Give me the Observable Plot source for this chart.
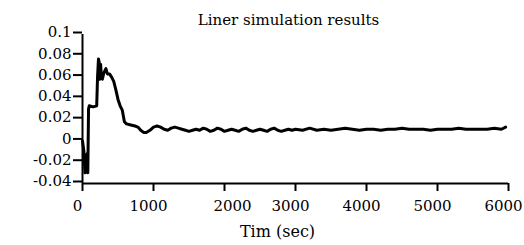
<!DOCTYPE html>
<html>
<head>
<meta charset="utf-8">
<script src="https://cdn.jsdelivr.net/npm/d3@7"></script>
<script src="https://cdn.jsdelivr.net/npm/@observablehq/plot@0.6"></script>
<style>
  html, body { margin: 0; padding: 0; background: #fff; }
  svg { display: block; }
</style>
</head>
<body>
<div id="chart"></div>
<script>
const title = "Liner simulation results";
const xLabel = "Tim (sec)";
const xTicks = [0, 1000, 2000, 3000, 4000, 5000, 6000];
const yTicks = [-0.04, -0.02, 0, 0.02, 0.04, 0.06, 0.08, 0.1];

const timeSec = [
  0, 20, 35, 45, 55, 65, 75, 85, 95, 150, 200, 212, 225, 235, 245, 255, 265, 280, 300, 330,
  350, 380, 410, 440, 470, 500, 530, 560, 590, 620, 680, 740, 780, 820, 860, 900, 950, 1000,
  1050, 1100, 1150, 1200, 1250, 1300, 1350, 1400, 1450, 1500, 1550, 1600, 1650, 1700, 1750,
  1800, 1850, 1900, 1950, 2000, 2050, 2100, 2150, 2200, 2250, 2300, 2350, 2400, 2450, 2500,
  2550, 2600, 2650, 2700, 2750, 2800, 2850, 2900, 2950, 3000, 3100, 3200, 3300, 3400, 3500,
  3600, 3700, 3800, 3900, 4000, 4100, 4200, 4300, 4400, 4500, 4600, 4700, 4800, 4900, 5000,
  5100, 5200, 5300, 5400, 5500, 5600, 5700, 5800, 5900, 5960
];
const response = [
  0.000, -0.010, -0.030, -0.015, -0.029, -0.012, -0.030, 0.030, 0.033, 0.032, 0.033, 0.060, 0.077, 0.074, 0.058, 0.072, 0.062, 0.058, 0.064, 0.068,
  0.063, 0.063, 0.060, 0.056, 0.048, 0.039, 0.033, 0.029, 0.018, 0.016, 0.015, 0.014, 0.013, 0.010, 0.008, 0.008, 0.010, 0.013,
  0.014, 0.013, 0.011, 0.010, 0.012, 0.013, 0.012, 0.011, 0.010, 0.009, 0.010, 0.011, 0.010, 0.012, 0.011,
  0.009, 0.010, 0.012, 0.011, 0.009, 0.010, 0.011, 0.010, 0.009, 0.011, 0.012, 0.010, 0.009, 0.010, 0.011,
  0.010, 0.009, 0.011, 0.012, 0.010, 0.009, 0.010, 0.011, 0.010, 0.011, 0.010, 0.012, 0.010, 0.011, 0.010,
  0.011, 0.012, 0.011, 0.010, 0.011, 0.011, 0.010, 0.011, 0.011, 0.012, 0.011, 0.011, 0.011, 0.010, 0.011,
  0.011, 0.011, 0.012, 0.011, 0.011, 0.011, 0.011, 0.012, 0.011, 0.013
];

const data = timeSec.map((t, i) => ({t, v: response[i]}));
const font = "'DejaVu Serif', serif";
const fmtX = d => String(d);

const plot = Plot.plot({
  width: 524,
  height: 245,
  marginTop: 34,
  marginBottom: 62,
  marginLeft: 82,
  marginRight: 16,
  style: {fontFamily: font, fontSize: "15px", color: "#000", background: "#fff"},
  x: {domain: [0, 6000], ticks: xTicks, label: null},
  y: {domain: [-0.04, 0.1], ticks: yTicks, label: null},
  marks: [
    Plot.axisX({ticks: xTicks, tickSize: 8, strokeWidth: 2, tickFormat: () => ""}),
    Plot.axisX({ticks: xTicks.filter(d => d !== 2000), tickSize: 0, tickPadding: 17, dx: -5, tickFormat: fmtX, fontSize: 15}),
    Plot.axisX({ticks: xTicks.filter(d => d === 2000), tickSize: 0, tickPadding: 17, dx: 8, tickFormat: fmtX, fontSize: 15}),
    Plot.axisY({ticks: yTicks, tickSize: 9, tickPadding: 2, strokeWidth: 2, dy: -2, tickFormat: d => d === 0 ? "0" : String(+d.toFixed(2)), fontSize: 15}),
    Plot.ruleY([-0.04], {strokeWidth: 2}),
    Plot.ruleX([0], {strokeWidth: 2}),
    Plot.line(data, {x: "t", y: "v", stroke: "#000", strokeWidth: 3, strokeLinejoin: "round"}),
    Plot.text([title], {frameAnchor: "top", dy: -20, dx: -7, fontSize: 15}),
    Plot.text([xLabel], {frameAnchor: "bottom", dy: 53, dx: -18, fontSize: 16})
  ]
});
document.getElementById("chart").appendChild(plot);
</script>
</body>
</html>
